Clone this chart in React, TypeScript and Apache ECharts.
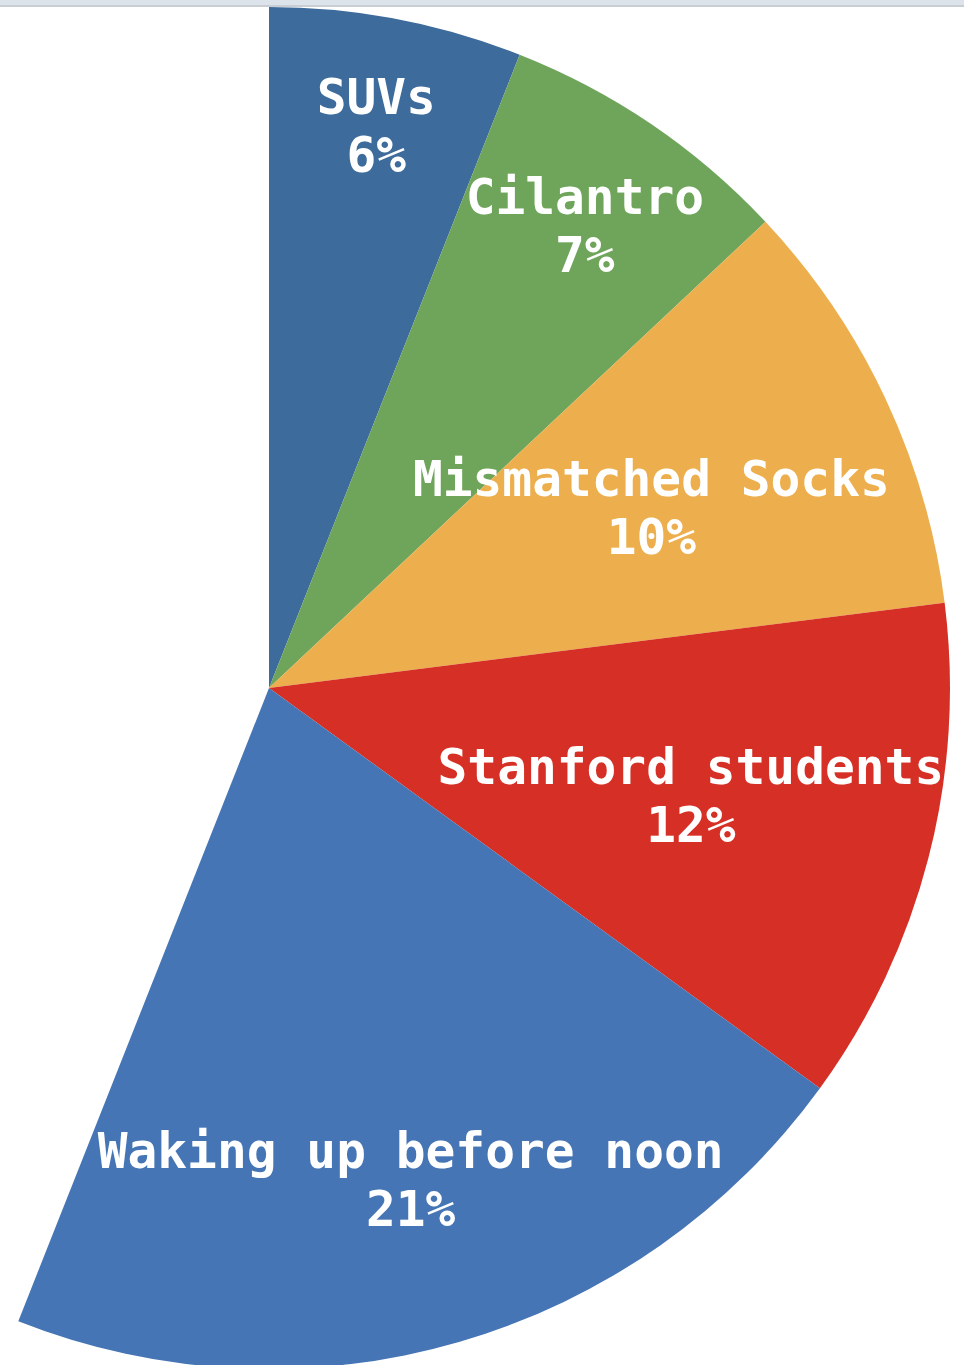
import React, { useEffect, useRef } from "react";
import * as echarts from "echarts";

const categories = ["SUVs", "Cilantro", "Mismatched Socks", "Stanford students", "Waking up before noon"];
const values = [6, 7, 10, 12, 21];
const remainder = 44; // unlabelled, invisible part of the whole
const colors = ["#3d6b9b", "#6fa55a", "#edaf4d", "#d63026", "#4575b4"];

// label anchors: [angle in degrees clockwise from 12 o'clock, fraction of radius]
const labelAnchors: [number, number][] = [
  [10.8, 0.841],
  [34.3, 0.823],
  [64.7, 0.621],
  [104.2, 0.639],
  [163.9, 0.75],
];

const CX = 269;
const CY = 688;
const R = 681;

export default function App() {
  const ref = useRef<HTMLDivElement>(null);
  useEffect(() => {
    document.body.style.margin = "0";
    const chart = echarts.init(ref.current!, null, { renderer: "svg" });
    const data: any[] = categories.map((c, i) => ({
      name: c,
      value: values[i],
      itemStyle: { color: colors[i] },
    }));
    data.push({
      name: "",
      value: remainder,
      itemStyle: { color: "rgba(0,0,0,0)" },
      label: { show: false },
      labelLine: { show: false },
    });
    chart.setOption({
      animation: false,
      backgroundColor: "#ffffff",
      graphic: [
        { type: "rect", shape: { x: 0, y: 0, width: 964, height: 6 }, style: { fill: "#dde3ea" }, z: 10 },
        { type: "rect", shape: { x: 0, y: 5, width: 964, height: 2 }, style: { fill: "#c9ced4" }, z: 10 },
      ],
      series: [
        {
          type: "pie",
          center: [CX, CY],
          radius: R,
          startAngle: 90,
          clockwise: true,
          avoidLabelOverlap: false,
          silent: true,
          itemStyle: { borderWidth: 0 },
          label: {
            show: true,
            position: "inside",
            color: "#ffffff",
            fontFamily: "DejaVu Sans Mono",
            fontWeight: "bold",
            fontSize: 49.5,
            lineHeight: 58,
            align: "center",
            verticalAlign: "middle",
            formatter: (p: any) => `${p.name}\n${p.value}%`,
          },
          labelLine: { show: false },
          labelLayout: (p: any) => {
            const a = labelAnchors[p.dataIndex];
            if (!a) return {};
            const rad = (a[0] * Math.PI) / 180;
            return {
              x: CX + Math.sin(rad) * a[1] * R,
              y: CY - Math.cos(rad) * a[1] * R + 1,
              align: "center",
              verticalAlign: "middle",
            };
          },
          data,
        },
      ],
    });
    return () => chart.dispose();
  }, []);
  return <div ref={ref} style={{ width: 964, height: 1365 }} />;
}
